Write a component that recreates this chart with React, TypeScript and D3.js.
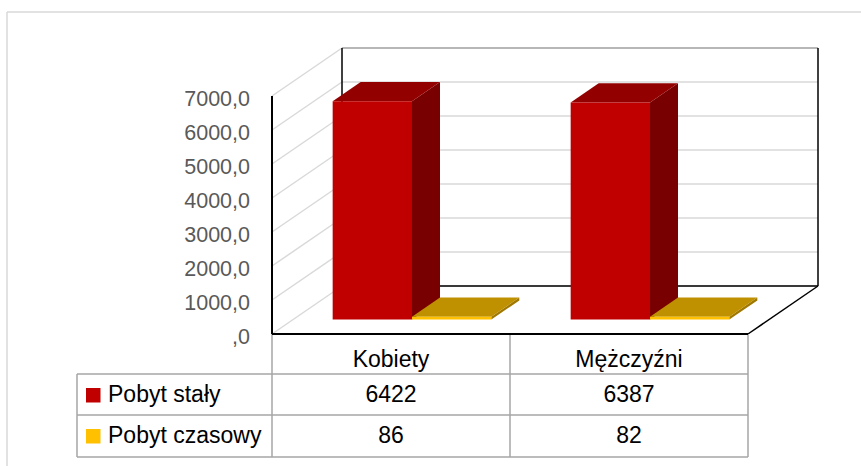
import React from 'react';
import * as d3 from 'd3';

// chart data
const categories = ['Kobiety', 'Mężczyźni'];
const seriesNames = ['Pobyt stały', 'Pobyt czasowy'];
const pobytStaly = [6422, 6387];
const pobytCzasowy = [86, 82];
const yTicks = [0, 1000, 2000, 3000, 4000, 5000, 6000, 7000];

const width = 861, height = 466;
// front plane of the 3d box
const plot = { left: 272, right: 748, top: 96, bottom: 334 };
// depth offset of the back wall
const DX = 70, DY = -48;
// bar depth (front / back fraction of the box depth)
const z0 = 0.3, z1 = 0.7;

const colors = [
    { front: '#C00000', top: '#920000', side: '#780000' },
    { front: '#FFC000', top: '#BF9000', side: '#A07800' }
];

const x = d3.scaleBand().domain(categories).range([plot.left, plot.right]).padding(0);
const xs = d3.scaleBand().domain(seriesNames).range([0, x.bandwidth()])
    .paddingInner(0).paddingOuter(0.5);
const y = d3.scaleLinear().domain([0, 7000]).range([plot.bottom, plot.top]);

// project a front-plane point to a given depth
const P = (px: number, v: number, z: number): [number, number] =>
    [px + z * DX, y(v) + z * DY];

const pts = (arr: [number, number][]) => arr.map(p => p.join(',')).join(' ');

const tickFormat = (v: number) => d3.format('.1f')(v).replace(/^0/, '').replace('.', ',');

const rows = [
    { name: seriesNames[0], values: pobytStaly, color: colors[0].front },
    { name: seriesNames[1], values: pobytCzasowy, color: colors[1].front }
];

// table rows geometry
const rowY = [334, 374, 415, 457];
const legendLeft = 77;

export default function App() {
    const gridColor = '#d9d9d9';
    const tableColor = '#a6a6a6';

    const bars: JSX.Element[] = [];
    categories.forEach((cat, ci) => {
        rows.forEach((row, si) => {
            const v = row.values[ci];
            const x0 = (x(cat) as number) + (xs(row.name) as number);
            const x1 = x0 + xs.bandwidth();
            const c = colors[si];
            const front = [P(x0, v, z0), P(x1, v, z0), P(x1, 0, z0), P(x0, 0, z0)];
            const top = [P(x0, v, z0), P(x1, v, z0), P(x1, v, z1), P(x0, v, z1)];
            const side = [P(x1, v, z0), P(x1, v, z1), P(x1, 0, z1), P(x1, 0, z0)];
            bars.push(
                <g key={cat + si}>
                    <polygon points={pts(side)} fill={c.side} />
                    <polygon points={pts(top)} fill={c.top} />
                    <polygon points={pts(front)} fill={c.front} />
                </g>
            );
        });
    });

    const backLeft = plot.left + DX, backRight = plot.right + DX;

    return (
        <svg width={width} height={height} viewBox={`0 0 ${width} ${height}`}
            style={{ position: 'absolute', left: 0, top: 0, background: '#fff' }}
            fontFamily="'Liberation Sans', Arial, sans-serif">
            {/* chart frame */}
            <line x1={7} y1={12} x2={width} y2={12} stroke={gridColor} strokeWidth={1.5} />
            <line x1={7} y1={12} x2={7} y2={height} stroke={gridColor} strokeWidth={1.5} />

            {/* gridlines on side wall and back wall */}
            {yTicks.map(t => (
                <g key={t}>
                    <line x1={plot.left} y1={y(t)} x2={backLeft} y2={y(t) + DY}
                        stroke={gridColor} strokeWidth={1.5} />
                    <line x1={backLeft} y1={y(t) + DY} x2={backRight} y2={y(t) + DY}
                        stroke={gridColor} strokeWidth={1.5} />
                </g>
            ))}
            <line x1={backLeft} y1={y(7000) + DY} x2={backRight} y2={y(7000) + DY}
                stroke="#8c8c8c" strokeWidth={1} />

            {/* back wall edges */}
            <line x1={backLeft} y1={y(7000) + DY} x2={backLeft} y2={y(0) + DY} stroke="#000" strokeWidth={1.5} />
            <line x1={backRight} y1={y(7000) + DY} x2={backRight} y2={y(0) + DY} stroke="#000" strokeWidth={1.5} />
            <line x1={backLeft} y1={y(0) + DY} x2={backRight} y2={y(0) + DY} stroke="#000" strokeWidth={1.5} />
            {/* floor right edge */}
            <line x1={plot.right} y1={plot.bottom} x2={backRight} y2={y(0) + DY} stroke="#000" strokeWidth={1.5} />

            {bars}

            {/* front axis */}
            <line x1={plot.left} y1={plot.top} x2={plot.left} y2={plot.bottom} stroke="#000" strokeWidth={2} />

            {/* y tick labels */}
            {yTicks.map(t => (
                <text key={t} x={250} y={y(t) + 10} textAnchor="end" fontSize={21.5} fill="#595959">
                    {tickFormat(t)}
                </text>
            ))}

            {/* data table */}
            <line x1={plot.left} y1={rowY[0]} x2={plot.left} y2={rowY[3]} stroke={tableColor} strokeWidth={1.5} />
            {categories.map(cat => (
                <line key={cat} x1={(x(cat) as number) + x.bandwidth()} y1={rowY[0]}
                    x2={(x(cat) as number) + x.bandwidth()} y2={rowY[3]} stroke={tableColor} strokeWidth={1.5} />
            ))}
            <line x1={legendLeft} y1={rowY[1]} x2={legendLeft} y2={rowY[3]} stroke={tableColor} strokeWidth={1.5} />
            {rowY.slice(1).map(ry => (
                <line key={ry} x1={legendLeft} y1={ry} x2={plot.right} y2={ry} stroke={tableColor} strokeWidth={1.5} />
            ))}
            <line x1={plot.left} y1={plot.bottom} x2={plot.right} y2={plot.bottom} stroke="#000" strokeWidth={2} />

            {categories.map(cat => (
                <text key={cat} x={(x(cat) as number) + x.bandwidth() / 2} y={367}
                    textAnchor="middle" fontSize={23} fill="#000">{cat}</text>
            ))}
            {rows.map((row, ri) => (
                <g key={row.name}>
                    <rect x={86} y={rowY[ri + 1] + 14} width={14.5} height={14.5} fill={row.color} />
                    <text x={108} y={rowY[ri + 1] + 28} fontSize={23} fill="#000">{row.name}</text>
                    {categories.map((cat, ci) => (
                        <text key={cat} x={(x(cat) as number) + x.bandwidth() / 2} y={rowY[ri + 1] + 28}
                            textAnchor="middle" fontSize={23} fill="#000">{row.values[ci]}</text>
                    ))}
                </g>
            ))}
        </svg>
    );
}
